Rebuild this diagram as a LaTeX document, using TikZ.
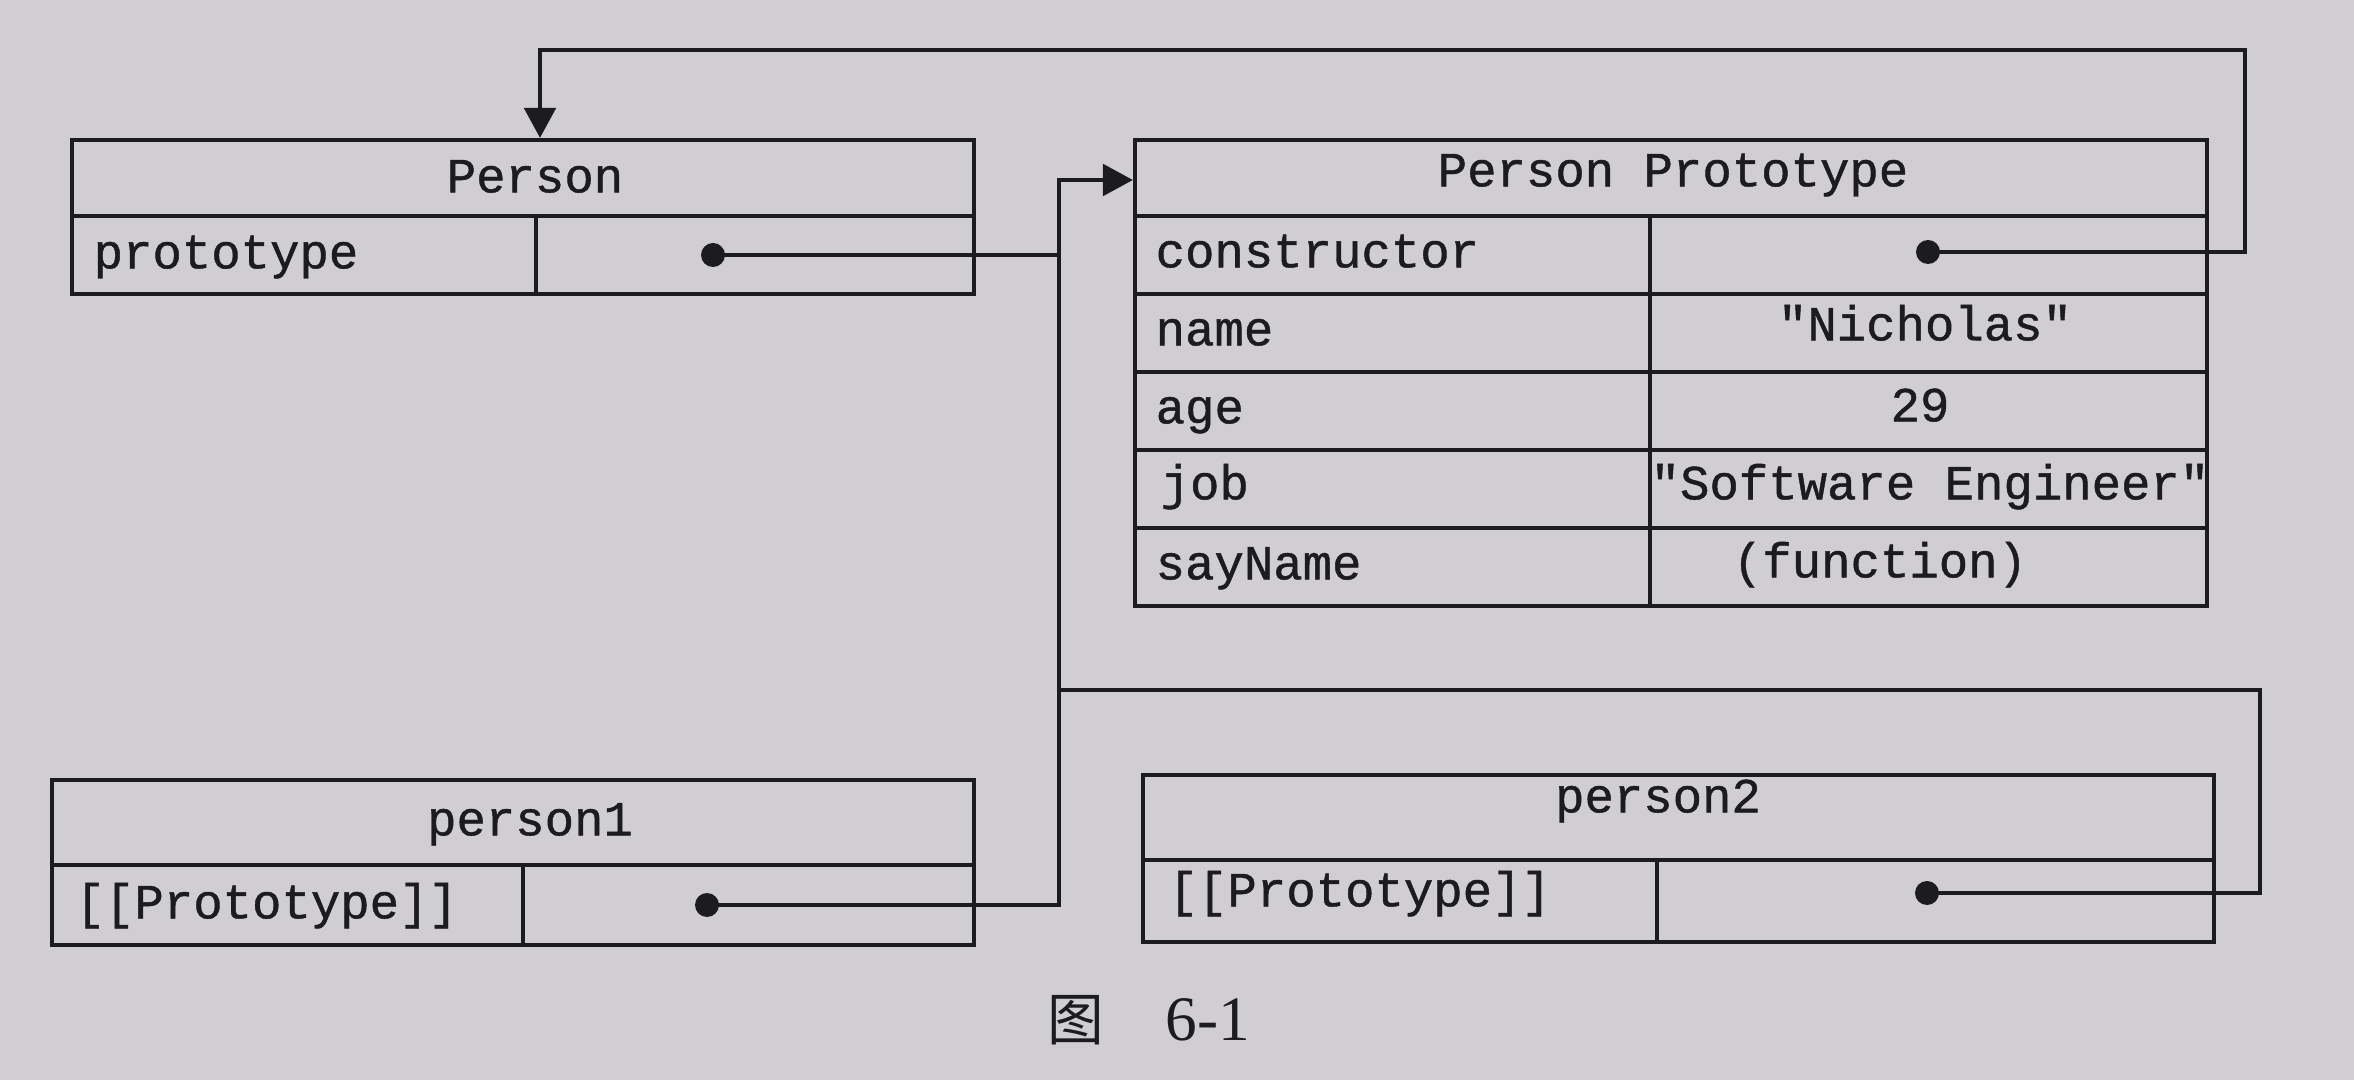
\documentclass[tikz,border=0pt]{standalone}
\usepackage{fontspec}
\newfontfamily\mono[FakeBold=0.9]{Liberation Mono}
\newfontfamily\cjk{Noto Sans CJK SC}
\newfontfamily\capserif{Liberation Serif}
\usetikzlibrary{arrows.meta,fit}
\definecolor{paper}{RGB}{208,206,209}
\definecolor{ink}{RGB}{28,28,30}
\begin{document}
\begin{tikzpicture}[x=0.3pt,y=-0.3pt,
  box/.style={draw=ink, line width=1.3pt, inner sep=0pt},
  txt/.style={font=\mono\fontsize{14.7pt}{17pt}\selectfont, text=ink, inner sep=0pt, text height=8.6pt, text depth=2.4pt},
  lbl/.style={txt, anchor=west},
  val/.style={txt},
  link/.style={draw=ink, line width=1.1pt},
  dotc/.style={circle, fill=ink, inner sep=0pt, minimum size=7.2pt},
  tip/.style={-{Triangle[length=9pt,width=9.5pt]}}]
\useasboundingbox[fill=paper] (0,0) rectangle (2354,1080);

% Person
\node[box, fit={(72,140) (974,216)}] (pH) {};
\node[val] (pHt) at (535,182) {Person};
\node[box, fit={(72,216) (536,294)}] (pK) {};
\node[box, fit={(536,216) (974,294)}] (pV) {};
\node[lbl] (pKt) at (93,258) {prototype};
\node[dotc] (dP) at (713,255) {};

% Person Prototype
\node[box, fit={(1135,140) (2207,216)}] (ptH) {};
\node[val] (ptHt) at (1673,176) {Person Prototype};
\foreach \r/\a/\b in {1/216/294,2/294/372,3/372/450,4/450/528,5/528/606}{
  \node[box, fit={(1135,\a) (1650,\b)}] (ptK\r) {};
  \node[box, fit={(1650,\a) (2207,\b)}] (ptV\r) {};
}
\node[lbl] (t1) at (1155,257) {constructor};
\node[lbl] (t2) at (1155,335) {name};
\node[lbl] (t3) at (1155,413) {age};
\node[lbl] (t4) at (1160,489) {job};
\node[lbl] (t5) at (1155,569) {sayName};
\node[dotc] (dC) at (1928,252) {};
\node[val] (v2) at (1925,330) {"Nicholas"};
\node[val] (v3) at (1920,411) {29};
\node[val] (v4) at (1930,489) {"Software Engineer"};
\node[val] (v5) at (1880,567) {(function)};

% person1
\node[box, fit={(52,780) (974,865)}] (aH) {};
\node[val] (aHt) at (530,825) {person1};
\node[box, fit={(52,865) (523,945)}] (aK) {};
\node[box, fit={(523,865) (974,945)}] (aV) {};
\node[lbl] (aKt) at (75,908) {[[Prototype]]};
\node[dotc] (d1) at (707,905) {};

% person2
\node[box, fit={(1143,775) (2214,860)}] (bH) {};
\node[val] (bHt) at (1658,802) {person2};
\node[box, fit={(1143,860) (1657,942)}] (bK) {};
\node[box, fit={(1657,860) (2214,942)}] (bV) {};
\node[lbl] (bKt) at (1168,896) {[[Prototype]]};
\node[dotc] (d2) at (1927,893) {};

% connector coordinates
\coordinate (jP) at (1059,255);
\coordinate (v1) at (1059,905);
\coordinate (vtop) at (1059,180);
\coordinate (c1) at (2245,252);
\coordinate (c2) at (2245,50);
\coordinate (c3) at (540,50);
\coordinate (q1) at (2260,893);
\coordinate (q2) at (2260,690);
\coordinate (q3) at (1059,690);

% connectors
\draw[link] (dP.center) -- (jP);
\draw[link, tip] (d1.center) -- (v1) -- (vtop) -- (vtop -| ptH.west);
\draw[link, tip] (dC.center) -- (c1) -- (c2) -- (c3) -- (c3 |- pH.north);
\draw[link] (d2.center) -- (q1) -- (q2) -- (q3);

% caption
\node[inner sep=0pt, text=ink, font=\cjk\fontsize{17pt}{20pt}\selectfont] (capA) at (1076,1020) {图};
\node[inner sep=0pt, text=ink, font=\capserif\fontsize{19pt}{22pt}\selectfont] (capB) at (1208,1020) {6-1};
\end{tikzpicture}
\end{document}
